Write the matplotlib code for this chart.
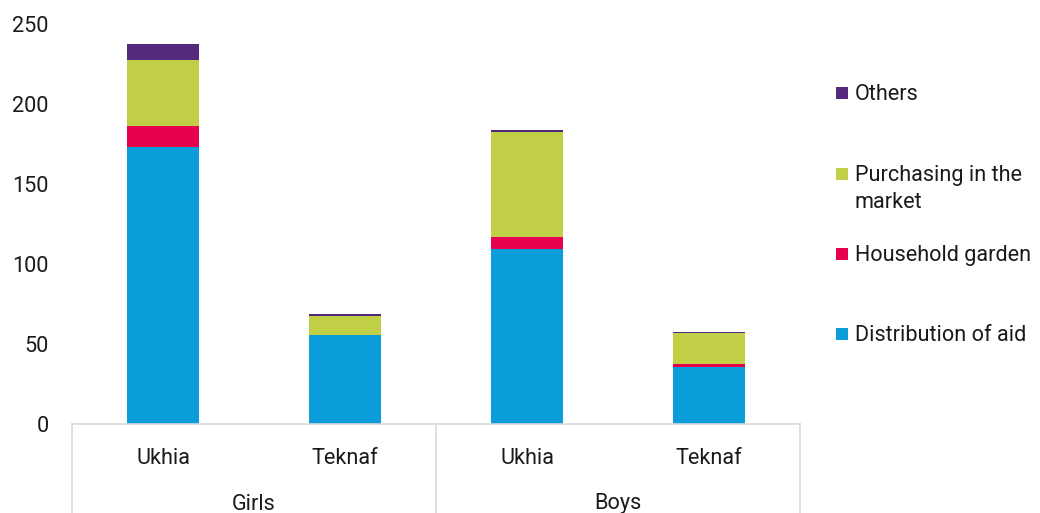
import matplotlib
matplotlib.use("Agg")
import matplotlib.pyplot as plt
from matplotlib.patches import Rectangle
import numpy as np

plt.rcParams['font.family'] = ['Roboto', 'DejaVu Sans']

categories = ["Ukhia", "Teknaf", "Ukhia", "Teknaf"]
groups = ["Girls", "Boys"]
series_names = ["Distribution of aid", "Household garden", "Purchasing in the\nmarket", "Others"]
aid = [173, 55.6, 109.6, 35.6]
garden = [13.5, 0, 7, 2]
market = [41, 12, 66, 19]
others = [10, 1, 1, 1]
colors = ["#0A9DD9", "#E6004E", "#C0CF46", "#532A7C"]
yticks = [0, 50, 100, 150, 200, 250]

FS = 15.6
TC = '#1a1a1a'

fig = plt.figure(figsize=(10.4, 5.13), dpi=100)
ax = fig.add_axes([72/1040, (513-424)/513, (800-72)/1040, 400/513])

x = np.arange(len(categories))
bottom = np.zeros(len(categories))
for vals, col in zip([aid, garden, market, others], colors):
    ax.bar(x, vals, width=0.4, bottom=bottom, color=col, linewidth=0)
    bottom += np.array(vals)

ax.set_xlim(-0.5, 3.5)
ax.set_ylim(0, 250)
ax.set_yticks(yticks)
ax.set_yticklabels([str(t) for t in yticks])
ax.tick_params(axis='y', length=0, pad=17, labelsize=FS, labelcolor=TC)
ax.set_xticks([])
for s in ['left', 'right', 'top']:
    ax.spines[s].set_visible(False)
ax.spines['bottom'].set_color('#d9d9d9')
ax.spines['bottom'].set_linewidth(1.2)

tr = ax.get_xaxis_transform()
for xi, lab in zip(x, categories):
    ax.text(xi, -0.085, lab, transform=tr, ha='center', va='center', fontsize=FS, color=TC)
for gi, g in enumerate(groups):
    ax.text(0.5 + 2*gi, -0.2, g, transform=tr, ha='center', va='center', fontsize=FS, color=TC)
for xs in [-0.5, 1.5, 3.5]:
    ax.plot([xs, xs], [0, -0.23], transform=tr, color='#d9d9d9', lw=1.2, clip_on=False)

# legend
leg_y = [93, 174, 254, 334]
leg_order = [3, 2, 1, 0]
for yy, idx in zip(leg_y, leg_order):
    fig.patches.append(Rectangle((836/1040, (513-yy-6)/513), 12/1040, 12/513,
                                 transform=fig.transFigure, color=colors[idx], lw=0))
    lines = series_names[idx].split("\n")
    for k, ln in enumerate(lines):
        fig.text(855/1040, (513-yy-1.5-27*k)/513, ln, ha='left', va='center', fontsize=FS, color=TC)

fig.savefig("out.png", dpi=100)
